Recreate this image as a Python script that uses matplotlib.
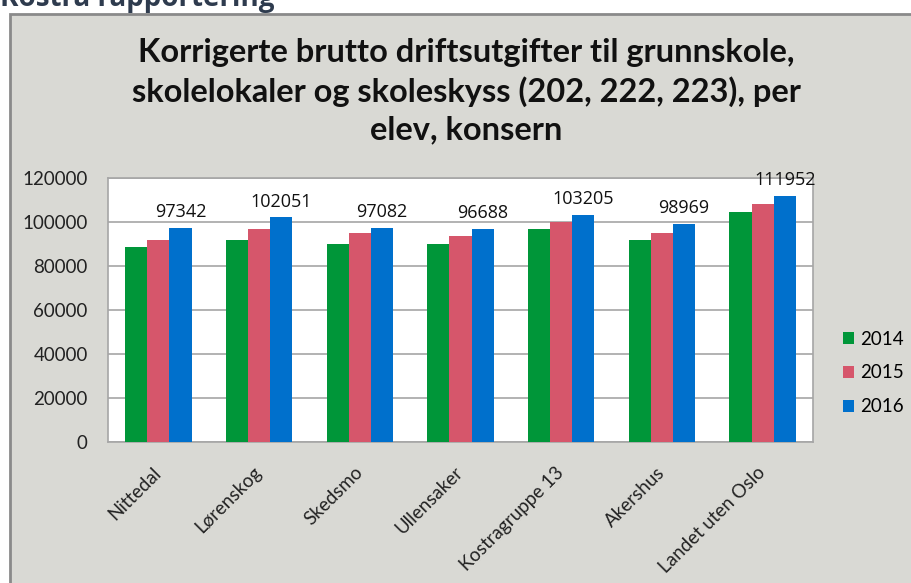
import matplotlib
matplotlib.use("Agg")
import matplotlib.pyplot as plt
from matplotlib.patches import Rectangle
import numpy as np

categories = ["Nittedal", "Lørenskog", "Skedsmo", "Ullensaker", "Kostragruppe 13", "Akershus", "Landet uten Oslo"]
series_names = ["2014", "2015", "2016"]
v2014 = [88600, 92000, 89900, 89900, 97000, 92000, 104700]
v2015 = [92000, 97000, 94900, 93600, 100000, 94900, 108200]
v2016 = [97342, 102051, 97082, 96688, 103205, 98969, 111952]
colors = ["#009639", "#D6566B", "#0070CC"]
yticks = [0, 20000, 40000, 60000, 80000, 100000, 120000]
title = "Korrigerte brutto driftsutgifter til grunnskole,\nskolelokaler og skoleskyss (202, 222, 223), per\nelev, konsern"

W, H = 912, 583
fig = plt.figure(figsize=(W/100, H/100), dpi=100)
fig.patch.set_facecolor("white")

def fx(x): return x / W
def fy(y): return 1 - y / H

bg = fig.add_axes([0, 0, 1, 1], zorder=0)
bg.set_xlim(0, W)
bg.set_ylim(H, 0)
bg.axis("off")
bg.add_patch(Rectangle((10, 14), W, H, facecolor="#D9D9D4", edgecolor="#8A8A8A", linewidth=2))
bg.text(0, 6, "Kostra rapportering", fontsize=20, fontweight="bold",
        color="#2E3B4E", ha="left", va="baseline", family="Open Sans")
bg.text(466, 91, title, fontsize=23.5, fontweight="bold", ha="center", va="center",
        family="Lato", linespacing=1.36, color="#111111")

ax = fig.add_axes([fx(108), fy(442), fx(813) - fx(108), fy(178) - fy(442)], zorder=2)
ax.set_facecolor("white")
x = np.arange(len(categories))
bw = 0.22
for i, (vals, c, n) in enumerate(zip([v2014, v2015, v2016], colors, series_names)):
    ax.bar(x + (i - 1) * bw, vals, width=bw, color=c, label=n, zorder=3)

for xi, v in zip(x, v2016):
    ax.annotate(f"{v}", (xi + bw, v), xytext=(0, 5), textcoords="offset points",
                ha="center", va="bottom", fontsize=13, family="Open Sans", color="#111111",
                zorder=5, annotation_clip=False)

ax.set_xlim(-0.5, len(categories) - 0.5)
ax.set_ylim(0, 120000)
ax.set_yticks(yticks)
ax.set_yticklabels([str(t) for t in yticks], fontsize=13.5, family="Lato", color="#222222")
ax.yaxis.grid(True, color="#A6A6A6", linewidth=1.2, zorder=0)
ax.set_axisbelow(True)
ax.tick_params(axis="y", length=0, pad=14.5)
ax.tick_params(axis="x", length=0, pad=20)
ax.set_xticks(x)
ax.set_xticklabels(categories, rotation=45, ha="right", va="center", rotation_mode="anchor",
                   fontsize=13.5, family="Lato", color="#222222")
for s in ax.spines.values():
    s.set_color("#A6A6A6")
    s.set_linewidth(1.2)

ax.legend(loc="center left", bbox_to_anchor=(fx(826), fy(373)), bbox_transform=fig.transFigure,
          frameon=False, prop={"family": "Lato", "size": 13.5}, handlelength=0.6,
          handleheight=0.6, handletextpad=0.3, labelspacing=0.9)

fig.savefig("out.png", dpi=100, facecolor=fig.get_facecolor())
